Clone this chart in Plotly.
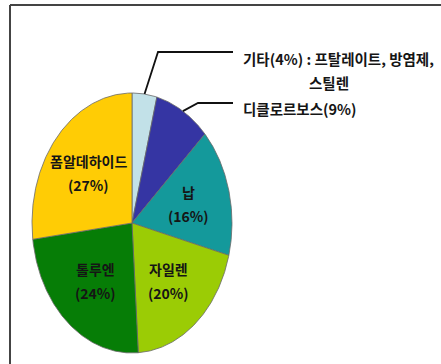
import numpy as np
import plotly.graph_objects as go

# Share of each source, clockwise from 12 o'clock
names = ["기타", "디클로르보스", "납", "자일렌", "톨루엔", "폼알데하이드"]
shares = [4, 9, 16, 20, 24, 27]
colors = ["#c2e1e8", "#3535a3", "#14999b", "#9bcc05", "#067d06", "#ffcc05"]

# Pie geometry on a pixel-sized canvas (the pie is drawn as an upright ellipse)
W, H = 441, 364
CX, CY, RX, RY = 132, 223, 100, 130
LABEL_R = 0.58
FONT = "Noto Sans CJK KR"
INK = "#151515"


def point(angle_deg, r=1.0):
    a = np.radians(angle_deg)
    return CX + RX * r * np.sin(a), CY - RY * r * np.cos(a)


fig = go.Figure()

total = sum(shares)
start = 0.0
mids = []
for name, val, col in zip(names, shares, colors):
    span = 360.0 * val / total
    ang = np.linspace(start, start + span, max(int(span * 2), 8))
    xs, ys = point(ang)
    fig.add_trace(go.Scatter(
        x=np.r_[CX, xs, CX], y=np.r_[CY, ys, CY],
        fill="toself", fillcolor=col, mode="lines",
        line=dict(color="#6a6a6a", width=0.8),
        hoverinfo="text", text=f"{name} {val}%", showlegend=False,
    ))
    mids.append(start + span / 2)
    start += span

# Labels inside the larger slices
inside = [2, 3, 4, 5]
for i in inside:
    lx, ly = point(mids[i], LABEL_R)
    fig.add_annotation(x=lx, y=ly, yshift=12, text=f"<b>{names[i]}</b>",
                       showarrow=False, font=dict(family=FONT, size=14, color=INK))
    fig.add_annotation(x=lx, y=ly, yshift=-12, text=f"<b>({shares[i]}%)</b>",
                       showarrow=False, font=dict(family=FONT, size=14, color=INK))

# Leader lines for the two small slices: slice edge -> elbow -> text
callouts = [
    (0, (158, 52), 233),
    (1, (198, 103), 233),
]
for i, (ex, ey), endx in callouts:
    sx, sy = point(mids[i])
    fig.add_trace(go.Scatter(
        x=[sx, ex, endx], y=[sy, ey, ey], mode="lines",
        line=dict(color="#111111", width=1.8), hoverinfo="skip", showlegend=False,
    ))

fig.add_annotation(x=241, y=58, xanchor="left",
                   text=f"<b>{names[0]}({shares[0]}%) : 프탈레이트, 방염제,</b>",
                   showarrow=False, font=dict(family=FONT, size=14.5, color=INK))
fig.add_annotation(x=329, y=82, text="<b>스틸렌</b>",
                   showarrow=False, font=dict(family=FONT, size=14.5, color=INK))
fig.add_annotation(x=241, y=108, xanchor="left",
                   text=f"<b>{names[1]}({shares[1]}%)</b>",
                   showarrow=False, font=dict(family=FONT, size=14.5, color=INK))

# Frame around the figure
fig.add_shape(type="line", x0=10, y0=5, x1=W + 5, y1=5,
              line=dict(color="#444444", width=2))
fig.add_shape(type="line", x0=10, y0=5, x1=10, y1=H + 5,
              line=dict(color="#444444", width=2))

fig.update_layout(
    width=W, height=H,
    margin=dict(l=0, r=0, t=0, b=0),
    paper_bgcolor="white", plot_bgcolor="white",
    xaxis=dict(range=[0, W], visible=False, fixedrange=True),
    yaxis=dict(range=[H, 0], visible=False, fixedrange=True),
    showlegend=False,
)

fig.write_html("out.html")
